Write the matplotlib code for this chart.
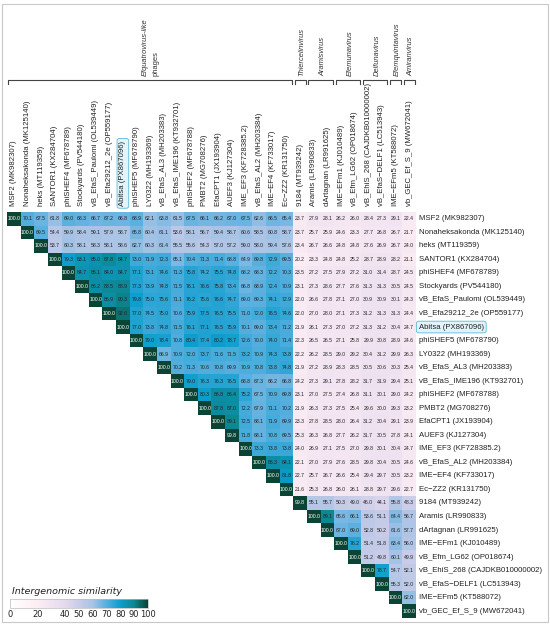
import numpy as np
import matplotlib.pyplot as plt
from matplotlib.colors import LinearSegmentedColormap, Normalize
from matplotlib.cm import ScalarMappable
from matplotlib.patches import Rectangle

plt.rcParams['font.family'] = ['Liberation Sans', 'DejaVu Sans']

phages = [
    'MSF2 (MK982307)', 'Nonaheksakonda (MK125140)', 'heks (MT119359)',
    'SANTOR1 (KX284704)', 'phiSHEF4 (MF678789)', 'Stockyards (PV544180)',
    'vB_EfaS_Paulomi (OL539449)', 'vB_Efa29212_2e (OP559177)', 'Abitsa (PX867096)',
    'phiSHEF5 (MF678790)', 'LY0322 (MH193369)', 'vB_EfaS_AL3 (MH203383)',
    'vB_EfaS_IME196 (KT932701)', 'phiSHEF2 (MF678788)', 'PMBT2 (MG708276)',
    'EfaCPT1 (JX193904)', 'AUEF3 (KJ127304)', 'IME_EF3 (KF728385.2)',
    'vB_EfaS_AL2 (MH203384)', 'IME\u2212EF4 (KF733017)', 'Ec\u2212ZZ2 (KR131750)',
    '9184 (MT939242)', 'Aramis (LR990833)', 'dArtagnan (LR991625)',
    'IME\u2212EFm1 (KJ010489)', 'vB_Efm_LG62 (OP018674)', 'vB_EhiS_268 (CAJDKB010000002)',
    'vB_EfaS\u2212DELF1 (LC513943)', 'IME\u2212EFm5 (KT588072)', 'vb_GEC_Ef_S_9 (MW672041)',
]
highlight = 'Abitsa (PX867096)'

group_names = ['Efquatrovirus-like', 'Thiercelinvirus', 'Aramisvirus', 'Efemunavirus',
               'Delfunavirus', 'Efemquintavirus', 'Amiranvirus']
group_first = [0, 21, 22, 24, 26, 28, 29]
group_last = [20, 21, 23, 25, 27, 28, 29]

# upper triangle, each row starts on the diagonal
sim_rows = [
    [100.0, 70.1, 67.5, 61.8, 69.0, 68.3, 66.7, 67.2, 66.8, 68.9, 62.1, 63.8, 61.5, 67.5, 66.1,
     66.2, 67.0, 67.5, 62.6, 66.5, 65.4, 23.7, 27.9, 28.1, 26.2, 26.0, 28.4, 27.3, 29.1, 22.4],
    [100.0, 69.5, 54.4, 59.9, 58.4, 59.1, 57.9, 58.7, 65.8, 60.4, 61.1, 53.6, 58.1, 56.7, 59.4,
     58.7, 60.6, 58.5, 60.8, 58.7, 23.7, 25.7, 25.9, 24.6, 23.3, 27.7, 26.8, 26.7, 21.7],
    [100.0, 53.7, 60.3, 58.1, 58.3, 58.1, 58.6, 62.7, 60.3, 61.4, 55.5, 55.6, 54.3, 57.0, 57.2,
     59.0, 58.0, 59.4, 57.6, 23.4, 26.7, 26.6, 24.8, 24.8, 27.6, 26.9, 26.7, 24.0],
    [100.0, 79.3, 83.1, 85.0, 87.8, 84.7, 73.0, 71.9, 72.3, 65.1, 70.4, 71.3, 71.4, 68.8, 64.9,
     69.8, 72.9, 69.5, 20.2, 23.3, 24.8, 24.8, 25.2, 28.7, 28.9, 28.2, 21.1],
    [100.0, 84.7, 86.1, 84.0, 84.7, 77.1, 73.1, 74.6, 71.3, 75.8, 74.2, 75.5, 74.8, 68.2, 68.3,
     72.2, 70.3, 23.5, 27.2, 27.5, 27.9, 27.2, 31.0, 31.4, 28.7, 24.5],
    [100.0, 86.2, 88.5, 88.9, 77.3, 73.9, 74.8, 71.5, 76.1, 76.6, 75.8, 73.4, 66.8, 68.9, 72.4,
     70.9, 23.1, 27.3, 28.6, 27.7, 27.6, 31.3, 31.3, 30.5, 24.5],
    [100.0, 86.9, 90.3, 79.8, 75.0, 75.6, 71.1, 76.2, 75.6, 76.6, 74.7, 69.0, 69.3, 74.1, 72.9,
     22.0, 26.6, 27.8, 27.1, 27.0, 30.9, 30.9, 30.1, 24.3],
    [100.0, 92.6, 77.0, 74.5, 75.0, 70.6, 75.9, 77.5, 76.5, 75.5, 71.0, 72.0, 76.5, 74.6, 22.0,
     27.0, 28.0, 27.1, 27.3, 31.2, 31.3, 31.3, 24.4],
    [100.0, 77.0, 73.8, 74.8, 71.5, 76.1, 77.1, 76.5, 75.9, 70.1, 69.0, 73.4, 71.2, 21.9, 26.1,
     27.3, 27.0, 27.2, 31.3, 31.2, 30.4, 24.7],
    [100.0, 79.0, 78.4, 70.8, 80.4, 77.4, 80.2, 78.7, 72.6, 70.0, 74.0, 71.4, 22.3, 26.5, 26.5,
     27.1, 25.8, 29.9, 30.8, 28.9, 24.6],
    [100.0, 66.9, 70.9, 72.0, 73.7, 71.6, 71.5, 73.2, 70.9, 74.3, 73.8, 22.2, 26.2, 28.5, 29.0,
     29.2, 30.4, 31.2, 29.9, 26.3],
    [100.0, 70.2, 71.3, 70.6, 70.8, 69.9, 70.9, 70.8, 73.8, 74.8, 21.9, 27.2, 28.9, 28.3, 28.5,
     30.5, 30.6, 30.3, 25.4],
    [100.0, 79.0, 76.3, 76.3, 76.5, 68.8, 67.3, 66.2, 66.8, 24.2, 27.3, 29.1, 27.8, 28.2, 31.7,
     31.9, 29.4, 25.1],
    [100.0, 80.3, 86.8, 86.4, 75.2, 67.5, 70.9, 69.8, 23.1, 27.0, 27.5, 27.4, 26.8, 31.1, 30.1,
     29.0, 24.2],
    [100.0, 87.8, 87.0, 72.2, 67.9, 71.1, 70.2, 21.9, 26.3, 27.3, 27.5, 25.4, 29.6, 30.0, 29.3,
     23.2],
    [100.0, 89.1, 72.5, 68.1, 71.9, 69.9, 23.3, 27.8, 28.5, 28.0, 26.4, 31.2, 30.4, 29.1, 23.9],
    [99.8, 71.8, 68.1, 70.8, 69.5, 25.3, 26.3, 26.8, 27.7, 26.2, 31.7, 30.5, 27.8, 24.1],
    [100.0, 73.3, 73.8, 73.8, 24.0, 26.9, 27.1, 27.5, 27.0, 29.8, 30.1, 30.4, 24.7],
    [100.0, 86.3, 84.1, 22.1, 27.0, 27.9, 27.6, 28.5, 29.8, 30.4, 30.5, 24.6],
    [100.0, 81.8, 22.7, 25.7, 26.7, 26.6, 25.4, 29.4, 29.7, 30.5, 23.2],
    [100.0, 21.6, 25.3, 26.8, 26.0, 26.1, 28.8, 29.7, 29.6, 22.7],
    [99.8, 55.1, 55.7, 50.3, 49.0, 46.0, 44.1, 55.8, 48.3],
    [100.0, 89.1, 65.6, 66.1, 53.6, 51.1, 64.4, 56.7],
    [100.0, 67.0, 69.0, 52.8, 50.2, 61.6, 57.7],
    [100.0, 76.2, 51.4, 51.8, 63.4, 56.0],
    [100.0, 51.2, 49.8, 60.1, 49.9],
    [100.0, 78.7, 54.7, 52.1],
    [100.0, 55.3, 52.0],
    [100.0, 62.0],
    [100.0],
]

cbar_ticks = [0, 20, 40, 50, 60, 70, 80, 90, 100]

n = len(phages)
mat = np.full((n, n), np.nan)
for i, row in enumerate(sim_rows):
    mat[i, i:] = row

cmap = LinearSegmentedColormap.from_list('viridic', [
    (0.0, '#ffffff'), (0.2, '#fcedf4'), (0.4, '#e4d9ee'), (0.5, '#c8cce8'),
    (0.6, '#a6c3e6'), (0.7, '#55afdf'), (0.8, '#0c9ecd'), (0.9, '#0c8790'),
    (1.0, '#0a4434')])
cmap.set_bad((1, 1, 1, 0))

W, H = 550, 626
fig = plt.figure(figsize=(W / 100, H / 100), dpi=100)

# matrix area in pixels: x 7..416, y 212..618
ax = fig.add_axes([7 / W, (H - 618) / H, 409 / W, 406 / H])
ax.imshow(np.ma.masked_invalid(mat), cmap=cmap, vmin=0, vmax=100,
          aspect='auto', interpolation='nearest')
ax.set_xlim(-0.5, n - 0.5)
ax.set_ylim(n - 0.5, -0.5)
ax.axis('off')

for i in range(n):
    for j in range(i, n):
        v = mat[i, j]
        ax.text(j, i, f'{v:.1f}', ha='center', va='center', fontsize=3.7,
                color='white' if v >= 95 else '#222222')

box = dict(boxstyle='round,pad=0.3', fc='#e1f4fb', ec='#5bb8d8', lw=0.6)
for k, name in enumerate(phages):
    bb = box if name == highlight else None
    ax.text(k, -0.95, name, rotation=90, ha='center', va='bottom',
            fontsize=5.6, color='#222222', bbox=bb)
    ax.text(n - 0.5 + 0.2, k, name, ha='left', va='center',
            fontsize=5.6, color='#222222', bbox=bb)

# group brackets above the column labels
y_line = -0.5 - (212 - 80) / 13.5
for name, a, b in zip(group_names, group_first, group_last):
    x0, x1 = a - 0.4, b + 0.4
    ax.plot([x0, x0, x1, x1], [y_line + 0.3, y_line, y_line, y_line + 0.3],
            color='#444444', lw=0.8, clip_on=False)
    xc = (a + b) / 2
    if b > a + 5:
        ax.text(xc - 0.35, y_line - 0.3, name, rotation=90, ha='center', va='bottom',
                fontsize=5.4, style='italic', color='#333333')
        ax.text(xc + 0.45, y_line - 0.3, 'phages', rotation=90, ha='center', va='bottom',
                fontsize=5.4, color='#333333')
    else:
        ax.text(xc + 0.15, y_line - 0.3, name, rotation=90, ha='center', va='bottom',
                fontsize=5.4, style='italic', color='#333333')

# colour legend
cax = fig.add_axes([10 / W, (H - 608) / H, 138 / W, 9 / H])
cb = fig.colorbar(ScalarMappable(norm=Normalize(0, 100), cmap=cmap), cax=cax,
                  orientation='horizontal', ticks=cbar_ticks)
cb.outline.set_edgecolor('#bbbbbb')
cb.outline.set_linewidth(0.5)
cax.tick_params(length=0, pad=1.5, labelsize=6.0, labelcolor='#222222')
for t in cax.get_xticklabels():
    t.set_fontfamily('DejaVu Sans')
fig.text(12 / W, (H - 592) / H, 'Intergenomic similarity', style='italic',
         fontsize=6.8, va='center', family='DejaVu Sans', color='#222222')

fig.add_artist(Rectangle((2 / W, 4 / H), 546 / W, 618 / H, transform=fig.transFigure,
                         fill=False, ec='#c8c8c8', lw=0.8))

plt.savefig('out.png', dpi=100)
